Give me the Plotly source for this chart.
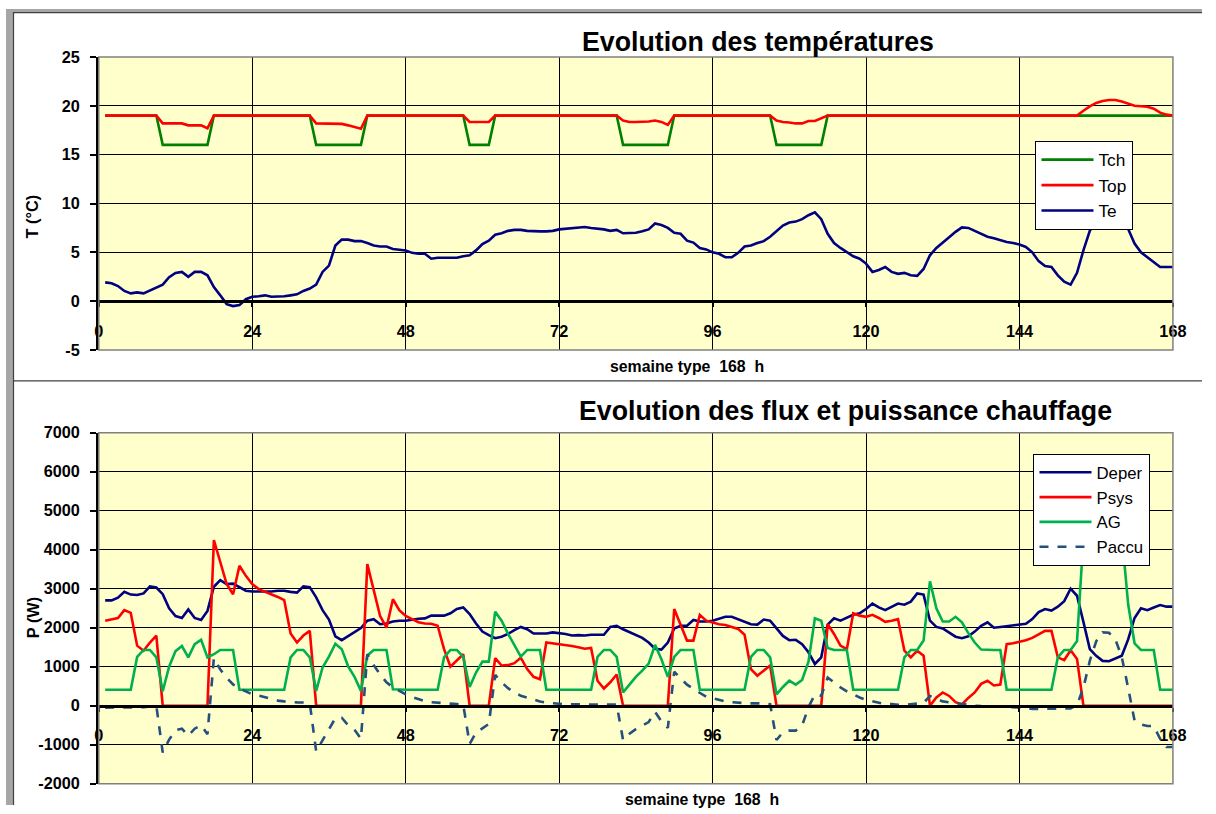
import plotly.graph_objects as go

W, H = 1216, 814
# empirical mapping of the capture: observed = (page + C) * S
SX, SY = 0.987, 0.981
CX, CY = 3.0, 7.0

# ---------------- data ----------------
hours = list(range(1, 169))

Tch = ([19]*9 + [16]*8 + [19]*16 + [16]*8 + [19]*16 + [16]*4 + [19]*20 + [16]*8 +
       [19]*16 + [16]*8 + [19]*55)

Top = ([19]*9 + [18.2, 18.2, 18.2, 18.2, 18.0, 18.0, 18.0, 17.7] + [19]*16 +
       [18.2, 18.2, 18.2, 18.2, 18.15, 18.0, 17.8, 17.65] + [19]*16 +
       [18.35, 18.35, 18.35, 18.35] + [19]*20 +
       [18.5, 18.35, 18.35, 18.35, 18.4, 18.5, 18.35, 18.05] + [19]*16 +
       [18.5, 18.35, 18.3, 18.2, 18.2, 18.45, 18.45, 18.75] + [19]*39 +
       [19.0, 19.5, 19.95, 20.3, 20.5, 20.6, 20.6, 20.45, 20.2, 20.0, 19.95, 19.9, 19.7, 19.3, 19.1, 19.0])

Te = [1.93, 1.83, 1.55, 1.05, 0.8, 0.9, 0.8, 1.1, 1.4, 1.7, 2.45, 2.9, 3.0, 2.5, 3.0, 3.0, 2.65, 1.45, 0.6, -0.3, -0.5, -0.4, 0.2, 0.45,
      0.5, 0.6, 0.45, 0.45, 0.5, 0.6, 0.7, 1.05, 1.3, 1.7, 3.0, 3.65, 5.7, 6.3, 6.3, 6.15, 6.15, 5.95, 5.7, 5.6, 5.6, 5.35, 5.25, 5.2,
      4.95, 4.85, 4.85, 4.35, 4.45, 4.45, 4.45, 4.45, 4.6, 4.7, 5.2, 5.85, 6.2, 6.8, 6.95, 7.2, 7.3, 7.3, 7.2, 7.15, 7.15, 7.15, 7.2, 7.35,
      7.4, 7.5, 7.5, 7.6, 7.5, 7.45, 7.35, 7.2, 7.3, 6.95, 7.0, 7.0, 7.15, 7.35, 7.95, 7.8, 7.5, 7.0, 6.9, 6.2, 6.0, 5.45, 5.3, 5.0,
      4.85, 4.5, 4.5, 4.95, 5.6, 5.7, 5.95, 6.15, 6.6, 7.2, 7.75, 8.05, 8.15, 8.4, 8.8, 9.1, 8.4, 6.9, 5.95, 5.45, 5.0, 4.6, 4.35, 3.85,
      3.0, 3.2, 3.5, 3.0, 2.8, 2.9, 2.65, 2.6, 3.3, 4.7, 5.45, 6.05, 6.55, 7.1, 7.55, 7.5, 7.2, 6.9, 6.6, 6.45, 6.25, 6.05, 5.95, 5.8,
      5.55, 5.0, 4.1, 3.6, 3.5, 2.65, 2.0, 1.7, 2.9, 5.2, 7.2, 8.3, 9.2, 9.6, 9.5, 8.9, 7.4, 5.9, 5.0, 4.5, 4.0, 3.5, 3.5, 3.5]

Deper = [2700, 2700, 2770, 2920, 2850, 2840, 2880, 3060, 3030, 2860, 2500, 2300, 2250, 2470, 2250, 2200, 2430, 3050, 3220, 3120, 3130, 3030, 2950, 2930,
         2930, 2930, 2930, 2950, 2950, 2920, 2900, 3060, 3040, 2780, 2450, 2210, 1780, 1680, 1790, 1900, 1990, 2180, 2220, 2090, 2110, 2160, 2180, 2180,
         2210, 2230, 2240, 2310, 2310, 2310, 2370, 2480, 2520, 2350, 2110, 1900, 1810, 1730, 1770, 1840, 1940, 2020, 1960, 1850, 1850, 1850, 1880, 1860,
         1840, 1800, 1810, 1800, 1820, 1820, 1820, 2020, 2050, 1960, 1880, 1820, 1740, 1620, 1460, 1440, 1620, 1980, 2050, 2050, 2200, 2160, 2160, 2180,
         2230, 2280, 2280, 2210, 2140, 2090, 2080, 2210, 2180, 1990, 1790, 1680, 1690, 1580, 1370, 1070, 1240, 2080, 2240, 2180, 2250, 2330, 2370, 2480,
         2620, 2520, 2450, 2540, 2620, 2590, 2670, 2880, 2850, 2180, 2020, 1980, 1880, 1770, 1730, 1780, 1900, 2050, 2140, 2000, 2020, 2040, 2050, 2070,
         2100, 2220, 2400, 2480, 2440, 2540, 2680, 3000, 2820, 2150, 1450, 1280, 1150, 1140, 1200, 1280, 1700, 2250, 2500, 2450, 2520, 2580, 2540, 2540]

Psys = [2180, 2210, 2250, 2450, 2380, 1540, 1410, 1620, 1800, 0, 0, 0, 0, 0, 0, 0, 0, 4250, 3700, 3120, 2860, 3590, 3330, 3120,
        2990, 2930, 2860, 2790, 2710, 1850, 1620, 1800, 1920, 0, 0, 0, 0, 0, 0, 0, 0, 3630, 3000, 2300, 2000, 2730, 2450, 2300,
        2220, 2140, 2110, 2100, 2050, 1450, 1000, 1170, 1320, 0, 0, 0, 0, 1220, 1030, 1040, 1090, 1230, 940, 740, 680, 1620, 1600, 1580,
        1560, 1530, 1500, 1460, 1480, 640, 440, 600, 800, 0, 0, 0, 0, 0, 0, 0, 0, 2480, 2050, 1670, 1670, 2330, 2180, 2140,
        2090, 2070, 2030, 1970, 1820, 940, 770, 910, 1030, 0, 0, 0, 0, 0, 0, 0, 0, 2090, 1840, 1540, 1450, 2370, 2310, 2280,
        2330, 2250, 2150, 2180, 2220, 1410, 1240, 1410, 1280, 0, 210, 340, 250, 90, 30, 200, 340, 560, 640, 520, 540, 1580, 1600, 1640,
        1680, 1740, 1820, 1920, 1920, 1240, 1170, 1420, 1200, 0, 0, 0, 0, 0, 0, 0, 0, 0, 0, 0, 0, 0, 0, 0]

AG = [410, 410, 410, 410, 410, 1250, 1430, 1430, 1240, 370, 1000, 1400, 1530, 1240, 1580, 1690, 1240, 1320, 1430, 1430, 1430, 410, 410, 410,
      410, 410, 410, 410, 410, 1240, 1430, 1430, 1240, 380, 980, 1260, 1590, 1450, 1010, 740, 380, 1290, 1430, 1430, 1430, 420, 410, 410,
      410, 410, 410, 410, 410, 1240, 1430, 1430, 1250, 480, 850, 1130, 1130, 2410, 2180, 1850, 1540, 1260, 1430, 1430, 1430, 410, 410, 410,
      410, 410, 410, 410, 410, 1250, 1430, 1430, 1250, 340, 530, 740, 900, 1080, 1560, 1190, 740, 1250, 1430, 1430, 1430, 410, 410, 410,
      410, 410, 410, 410, 410, 1250, 1430, 1430, 1240, 290, 480, 640, 540, 660, 1130, 2240, 2180, 1480, 1430, 1430, 1430, 410, 410, 410,
      410, 410, 410, 410, 410, 1240, 1430, 1430, 1670, 3190, 2500, 2160, 2160, 2280, 2140, 1860, 1620, 1440, 1430, 1430, 1430, 410, 410, 410,
      410, 410, 410, 410, 410, 1240, 1430, 1430, 1660, 4300, 5200, 5600, 5700, 5600, 5300, 4400, 2600, 1600, 1430, 1430, 1430, 410, 410, 410]

Paccu = [-50, -50, -50, -50, -50, -45, -40, -20, 0, -1200, -870, -630, -590, -770, -590, -500, -730, 1220, 930, 720, 545, 440, 355, 290,
         260, 210, 170, 130, 110, 90, 85, 80, 65, -1170, -890, -630, -320, -310, -500, -620, -850, 1320, 1040, 800, 600, 470, 370, 290,
         220, 160, 120, 90, 75, 55, 40, 40, 30, -980, -690, -580, -470, 790, 600, 450, 340, 255, 200, 145, 110, 75, 60, 40,
         35, 35, 30, 30, 30, 30, 30, 30, 30, -880, -720, -600, -510, -420, -160, -400, -570, 870, 700, 540, 430, 320, 230, 190,
         145, 110, 90, 70, 65, 60, 60, 60, 40, -880, -680, -640, -640, -510, -40, 290, 255, 720, 600, 470, 370, 280, 210, 150,
         110, 70, 40, 40, 20, 20, 40, 50, 70, 250, 170, 110, 85, 60, 40, 20, 0, -10, -20, -20, -25, -30, -40, -40,
         -60, -85, -85, -85, -85, -85, -85, -70, 20, 460, 1150, 1650, 1880, 1870, 1700, 1250, 450, -380, -480, -520, -520, -850, -1060, -1060]

x_ticks = [0, 24, 48, 72, 96, 120, 144, 168]
x_ticklabels = ["0", "24", "48", "72", "96", "120", "144", "168"]
t_ticks = [-5, 0, 5, 10, 15, 20, 25]
t_ticklabels = ["-5", "0", "5", "10", "15", "20", "25"]
p_ticks = [-2000, -1000, 0, 1000, 2000, 3000, 4000, 5000, 6000, 7000]
p_ticklabels = ["-2000", "-1000", "0", "1000", "2000", "3000", "4000", "5000", "6000", "7000"]

# ---------------- layout helpers (target pixel -> paper) ----------------
FONT = "Liberation Sans, Arial, sans-serif"
FS = 1 / ((SX + SY) / 2)
def px_x(r): return (r / SX - CX) / W
def px_y(r): return 1 - (r / SY - CY) / H
def fs(v): return round(v * FS, 2)

X0, X1 = 97, 1174
TOP_Y0, TOP_Y1 = 55, 349
BOT_Y0, BOT_Y1 = 432, 784

top_dom = [px_y(TOP_Y1), px_y(TOP_Y0)]
bot_dom = [px_y(BOT_Y1), px_y(BOT_Y0)]
top_zero = top_dom[0] + (0 - (-5)) / 30 * (top_dom[1] - top_dom[0])
bot_zero = bot_dom[0] + (0 - (-2000)) / 9000 * (bot_dom[1] - bot_dom[0])

fig = go.Figure()

LW = 2.6
fig.add_trace(go.Scatter(x=hours, y=Tch, name="Tch", mode="lines", line=dict(color="#008000", width=LW),
                         xaxis="x", yaxis="y", legend="legend"))
fig.add_trace(go.Scatter(x=hours, y=Top, name="Top", mode="lines", line=dict(color="#FF0000", width=LW),
                         xaxis="x", yaxis="y", legend="legend"))
fig.add_trace(go.Scatter(x=hours, y=Te, name="Te", mode="lines", line=dict(color="#000080", width=LW),
                         xaxis="x", yaxis="y", legend="legend"))

fig.add_trace(go.Scatter(x=hours, y=Deper, name="Deper", mode="lines", line=dict(color="#000080", width=LW),
                         xaxis="x2", yaxis="y2", legend="legend2"))
fig.add_trace(go.Scatter(x=hours, y=Psys, name="Psys", mode="lines", line=dict(color="#FF0000", width=LW),
                         xaxis="x2", yaxis="y2", legend="legend2"))
fig.add_trace(go.Scatter(x=hours, y=AG, name="AG", mode="lines", line=dict(color="#00B050", width=LW),
                         xaxis="x2", yaxis="y2", legend="legend2"))
fig.add_trace(go.Scatter(x=hours, y=Paccu, name="Paccu", mode="lines",
                         line=dict(color="#24507F", width=LW, dash="dash"),
                         xaxis="x2", yaxis="y2", legend="legend2"))

tickfont = dict(family=FONT, size=fs(16), color="black", weight="bold")

def xaxis_cfg(pos):
    return dict(domain=[px_x(X0), px_x(X1)], range=[0, 168], anchor="free", position=pos,
                tickmode="array", tickvals=x_ticks, ticktext=x_ticklabels,
                showgrid=True, gridcolor="black", gridwidth=1, zeroline=False,
                showline=True, linecolor="black", linewidth=3,
                ticks="outside", ticklen=4, tickwidth=1.5, tickcolor="black",
                ticklabelstandoff=10,
                tickfont=tickfont, fixedrange=True)

def yaxis_cfg(dom, rng, vals, texts, anchor):
    return dict(domain=dom, range=rng, anchor=anchor,
                tickmode="array", tickvals=vals, ticktext=texts,
                showgrid=True, gridcolor="black", gridwidth=1, zeroline=False,
                showline=True, linecolor="black", linewidth=2.5,
                ticks="outside", ticklen=6, tickwidth=1.5, tickcolor="black",
                ticklabelstandoff=7,
                tickfont=tickfont, fixedrange=True)

legend_font = dict(family=FONT, size=fs(17), color="black")

fig.update_layout(
    width=W, height=H,
    margin=dict(l=0, r=0, t=0, b=0),
    paper_bgcolor="white",
    plot_bgcolor="#FFFFCC",
    showlegend=True,
    xaxis=xaxis_cfg(top_zero),
    yaxis=yaxis_cfg(top_dom, [-5, 25], t_ticks, t_ticklabels, "x"),
    xaxis2=xaxis_cfg(bot_zero),
    yaxis2=yaxis_cfg(bot_dom, [-2000, 7000], p_ticks, p_ticklabels, "x2"),
    legend=dict(x=px_x(1036), y=px_y(139), xanchor="left", yanchor="top",
                bgcolor="white", bordercolor="black", borderwidth=1.2,
                font=legend_font, itemwidth=52, tracegroupgap=0),
    legend2=dict(x=px_x(1034), y=px_y(453), xanchor="left", yanchor="top",
                 bgcolor="white", bordercolor="black", borderwidth=1.2,
                 font=dict(family=FONT, size=fs(16.5), color="black"), itemwidth=52, tracegroupgap=0),
)

# plot-area grey borders
shapes = []
for dom_y in (top_dom, bot_dom):
    shapes.append(dict(type="rect", xref="paper", yref="paper",
                       x0=px_x(X0), x1=px_x(X1), y0=dom_y[0], y1=dom_y[1],
                       line=dict(color="#808080", width=1.5), layer="above"))
# outer frame: grey band on top and left, dark edge lines, separator
shapes += [
    dict(type="rect", xref="paper", yref="paper", x0=max(px_x(4), 0), x1=px_x(11), y0=0, y1=1,
         fillcolor="#A6A6A6", line=dict(width=0), layer="below"),
    dict(type="rect", xref="paper", yref="paper", x0=max(px_x(4), 0), x1=1, y0=px_y(10), y1=1,
         fillcolor="#A6A6A6", line=dict(width=0), layer="below"),
    dict(type="line", xref="paper", yref="paper", x0=px_x(11.5), x1=px_x(11.5), y0=0, y1=px_y(10),
         line=dict(color="#404040", width=1.2)),
    dict(type="line", xref="paper", yref="paper", x0=px_x(11.5), x1=1, y0=px_y(10.5), y1=px_y(10.5),
         line=dict(color="#404040", width=1.2)),
    dict(type="line", xref="paper", yref="paper", x0=px_x(11.5), x1=1, y0=px_y(380), y1=px_y(380),
         line=dict(color="#404040", width=1.2)),
]
fig.update_layout(shapes=shapes)

title_font = dict(family=FONT, size=fs(26.3), color="black", weight="bold")
axis_title_font = dict(family=FONT, size=fs(15.6), color="black", weight="bold")
side_font = dict(family=FONT, size=fs(16), color="black", weight="bold")
ann = [
    dict(text="Evolution des températures", x=px_x(758), y=px_y(40), xref="paper", yref="paper",
         showarrow=False, font=title_font, xanchor="center", yanchor="middle"),
    dict(text="Evolution des flux et puissance chauffage", x=px_x(846), y=px_y(410), xref="paper", yref="paper",
         showarrow=False, font=title_font, xanchor="center", yanchor="middle"),
    dict(text="T (°C)", x=px_x(31), y=px_y(215), xref="paper", yref="paper", textangle=-90,
         showarrow=False, font=side_font, xanchor="center", yanchor="middle"),
    dict(text="P (W)", x=px_x(31), y=px_y(617), xref="paper", yref="paper", textangle=-90,
         showarrow=False, font=side_font, xanchor="center", yanchor="middle"),
    dict(text="semaine type  168  h", x=px_x(687), y=px_y(366), xref="paper", yref="paper",
         showarrow=False, font=axis_title_font, xanchor="center", yanchor="middle"),
    dict(text="semaine type  168  h", x=px_x(702), y=px_y(800), xref="paper", yref="paper",
         showarrow=False, font=axis_title_font, xanchor="center", yanchor="middle"),
]
fig.update_layout(annotations=ann)

fig.write_html("out.html", config={"displayModeBar": False},
               post_script="document.body.style.margin='0';document.body.style.overflow='hidden';")
